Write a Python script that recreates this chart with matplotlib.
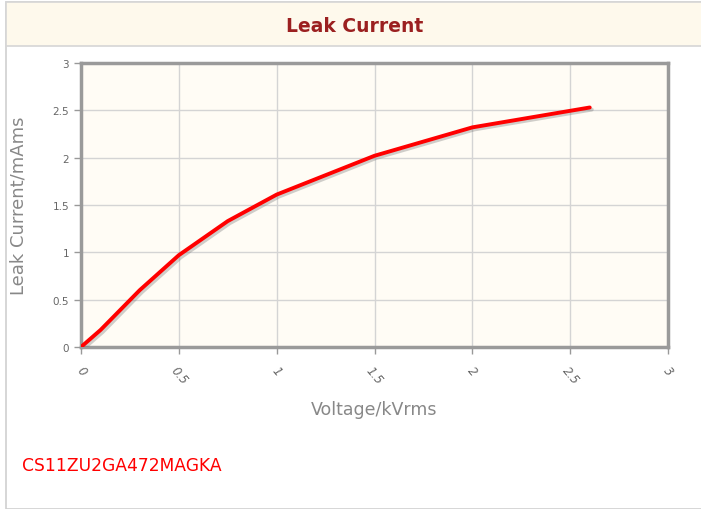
import matplotlib.pyplot as plt
import matplotlib.patheffects as pe
from matplotlib.patches import Rectangle

# data
voltage = [0.0, 0.1, 0.3, 0.5, 0.75, 1.0, 1.5, 2.0, 2.6]
leak_current = [0.0, 0.18, 0.60, 0.97, 1.33, 1.61, 2.02, 2.32, 2.53]
x_ticks = [0, 0.5, 1, 1.5, 2, 2.5, 3]
x_tick_labels = ["0", "0.5", "1", "1.5", "2", "2.5", "3"]
y_ticks = [0, 0.5, 1, 1.5, 2, 2.5, 3]
y_tick_labels = ["0", "0.5", "1", "1.5", "2", "2.5", "3"]

W, H = 701, 510
fig = plt.figure(figsize=(W / 100, H / 100), dpi=100)
fig.patch.set_facecolor("white")

# panel frame and title band (behind the axes)
fig.patches.append(Rectangle((6 / W, 0), 1.0, 1 - 3 / H, transform=fig.transFigure,
                             facecolor="white", edgecolor="#cfcfcf", linewidth=1.2, zorder=-2))
fig.patches.append(Rectangle((6 / W, 1 - 47 / H), 1.0, 44 / H, transform=fig.transFigure,
                             facecolor="#fef9ec", edgecolor="#d6d6d6", linewidth=1.2, zorder=-1))
fig.text(355 / W, 1 - 27 / H, "Leak Current", ha="center", va="center",
         fontsize=13.5, fontweight="bold", color="#9b2020", family="DejaVu Sans")

ax = fig.add_axes([81 / W, 1 - 348 / H, (668 - 81) / W, (348 - 64) / H])
ax.set_facecolor("#fffcf5")

ax.plot(voltage, leak_current, color="red", linewidth=2.8, solid_capstyle="round",
        path_effects=[pe.SimpleLineShadow(offset=(1.5, -1.5), shadow_color="#777777", alpha=0.35),
                      pe.Normal()], zorder=3)

ax.set_xlim(0, 3)
ax.set_ylim(0, 3)
ax.set_xticks(x_ticks)
ax.set_xticklabels(x_tick_labels, rotation=-50, fontstyle="italic", ha="center", va="top")
ax.set_yticks(y_ticks)
ax.set_yticklabels(y_tick_labels)
ax.tick_params(axis="both", colors="#999999", labelcolor="#666666", labelsize=7.5,
               length=5, width=1)
ax.tick_params(axis="x", pad=7, labelsize=8.5)
ax.grid(True, color="#d4d4d4", linewidth=1)
ax.set_axisbelow(True)
for s in ax.spines.values():
    s.set_color("#9a9a9a")
    s.set_linewidth(2.5)

ax.set_xlabel("Voltage/kVrms", fontsize=12.5, color="#888888", labelpad=10)
ax.set_ylabel("Leak Current/mAms", fontsize=13, color="#888888", labelpad=18)

fig.text(22 / W, 1 - 466 / H, "CS11ZU2GA472MAGKA", ha="left", va="center",
         fontsize=12.3, color="red")

fig.savefig("out.png", dpi=100)
